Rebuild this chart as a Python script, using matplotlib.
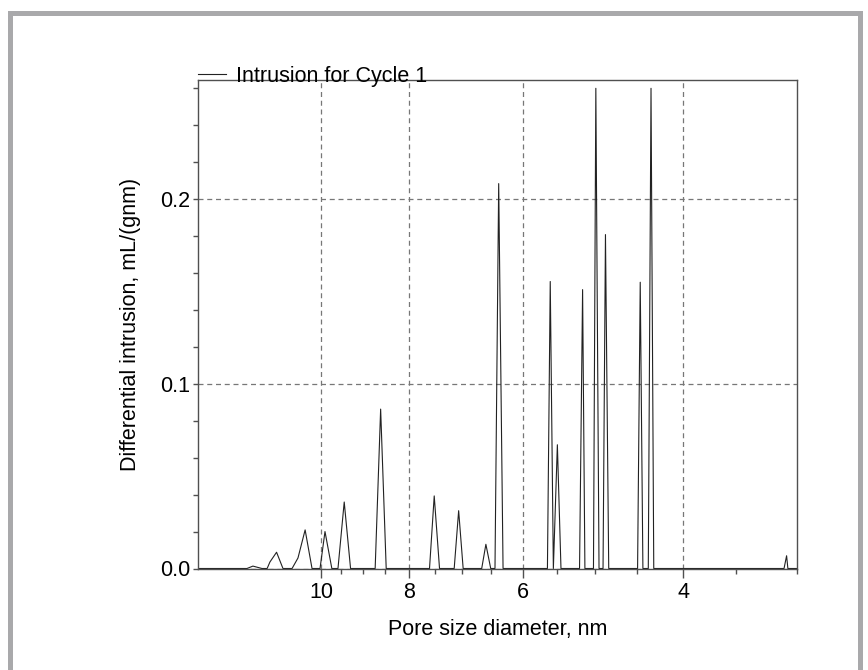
import matplotlib
matplotlib.use("Agg")
import matplotlib.pyplot as plt
from matplotlib.ticker import FixedLocator, NullFormatter, FixedFormatter
from matplotlib.patches import Rectangle

plt.rcParams['font.family'] = ['Liberation Sans', 'DejaVu Sans']

# pore size (nm) and differential intrusion (mL/(g nm))
pore_nm = [13.6,
           12.06, 11.88, 11.61,
           11.46, 11.38, 11.19, 11.01,
           10.76, 10.60, 10.41, 10.23,
           10.025, 9.90, 9.73,
           9.58, 9.43, 9.28,
           8.72, 8.60, 8.48,
           7.60, 7.51, 7.41,
           7.14, 7.06, 6.98,
           6.66, 6.59, 6.51,
           6.44, 6.38, 6.31,
           5.64, 5.60, 5.556,
           5.50, 5.45,
           5.20, 5.16, 5.13,
           5.02, 4.99, 4.95,
           4.90, 4.87, 4.83,
           4.49, 4.46, 4.43,
           4.37, 4.34, 4.31,
           3.10, 3.08, 3.07,
           3.0]
intrusion = [0.0,
             0.0, 0.0013, 0.0,
             0.0, 0.0035, 0.0088, 0.0,
             0.0, 0.0057, 0.0209, 0.0,
             0.0, 0.0200, 0.0,
             0.0, 0.0360, 0.0,
             0.0, 0.0863, 0.0,
             0.0, 0.0393, 0.0,
             0.0, 0.0313, 0.0,
             0.0, 0.0131, 0.0,
             0.0, 0.2084, 0.0,
             0.0, 0.1554, 0.0,
             0.0670, 0.0,
             0.0, 0.1510, 0.0,
             0.0, 0.2600, 0.0,
             0.0, 0.1808, 0.0,
             0.0, 0.1550, 0.0,
             0.0, 0.2600, 0.0,
             0.0, 0.0069, 0.0,
             0.0]

x_major = [10, 8, 6, 4]
x_minor = [9.5, 9, 8.5, 7.5, 7, 6.5, 5.5, 5, 4.5, 3.5, 3]
y_major = [0.0, 0.1, 0.2]
y_labels = ['0.0', '0.1', '0.2']
y_minor = [0.02, 0.04, 0.06, 0.08, 0.12, 0.14, 0.16, 0.18, 0.22, 0.24, 0.26]

fig = plt.figure(figsize=(8.68, 6.70), dpi=100)
ax = fig.add_axes([198 / 868, 1 - 568.5 / 670, (797 - 198) / 868, (568.5 - 80) / 670])

ax.plot(pore_nm, intrusion, color='#222222', lw=0.8, label='Intrusion for Cycle 1')

ax.set_xscale('log')
ax.set_xlim(13.65, 3.0)
ax.set_ylim(0, 0.2645)

ax.xaxis.set_major_locator(FixedLocator(x_major))
ax.xaxis.set_major_formatter(FixedFormatter([str(v) for v in x_major]))
ax.xaxis.set_minor_locator(FixedLocator(x_minor))
ax.xaxis.set_minor_formatter(NullFormatter())
ax.yaxis.set_major_locator(FixedLocator(y_major))
ax.yaxis.set_major_formatter(FixedFormatter(y_labels))
ax.yaxis.set_minor_locator(FixedLocator(y_minor))

ax.tick_params(which='major', length=6.5, width=1, color='#505050', labelsize=15.5, pad=3)
ax.tick_params(which='minor', length=3.5, width=1, color='#505050')
ax.tick_params(axis='y', which='both', length=3.6, pad=2)

for s in ax.spines.values():
    s.set_color('#505050')
    s.set_linewidth(1)

ax.grid(True, which='major', ls=(0, (4, 3)), color='#777777', lw=0.9)

ax.set_xlabel('Pore size diameter, nm', fontsize=15.5, labelpad=12)
ax.set_ylabel('Differential intrusion, mL/(gnm)', fontsize=15.5, labelpad=14)

ax.legend(loc='center left', bbox_to_anchor=(0, 1.008), frameon=False, fontsize=15.5,
          handlelength=1.3, handletextpad=0.45, borderpad=0, borderaxespad=0)

# grey frame around the figure
fig.patches.append(Rectangle((9.8 / 868, -0.1), (859.5 - 9.8) / 868, 1.1 - 13 / 670,
                             transform=fig.transFigure, fill=False,
                             edgecolor='#a9a9ab', lw=3.6))

fig.savefig('out.png', dpi=100)
